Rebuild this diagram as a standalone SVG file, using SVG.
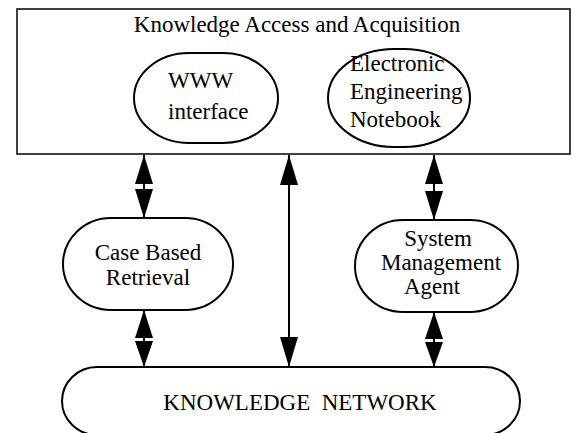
<svg xmlns="http://www.w3.org/2000/svg" width="574" height="433" viewBox="0 0 574 433">
<style>
.node{fill:#fff;stroke:#000;stroke-width:2}
.frame{fill:#fff;stroke:#111;stroke-width:1.6}
.t{font-family:"Liberation Serif","Times New Roman",serif;font-size:23px;fill:#000;white-space:pre}
.c{text-anchor:middle}
.shaft{stroke:#000;stroke-width:2;fill:none}
.head{fill:#000}
</style>
<g id="knowledge-access">
<rect class="frame" x="17" y="9" width="553" height="145"/>
<text class="t c" x="297" y="32" font-size="24">Knowledge Access and Acquisition</text>
</g>
<g id="www-interface">
<rect class="node" x="134" y="53" width="144" height="90" rx="55" ry="45"/>
<text class="t" x="168" y="88">WWW</text>
<text class="t" x="168" y="119">interface</text>
</g>
<g id="electronic-notebook">
<rect class="node" x="328" y="49" width="142" height="98" rx="66" ry="49"/>
<text class="t" x="350" y="71">Electronic</text>
<text class="t" x="350" y="99">Engineering</text>
<text class="t" x="350" y="127">Notebook</text>
</g>
<g id="case-based-retrieval">
<rect class="node" x="63" y="218" width="170" height="92" rx="48" ry="46"/>
<text class="t c" x="148" y="260">Case Based</text>
<text class="t c" x="148" y="285">Retrieval</text>
</g>
<g id="system-management-agent">
<rect class="node" x="355" y="220" width="163" height="92" rx="48" ry="46"/>
<text class="t c" x="438" y="246">System</text>
<text class="t c" x="441" y="270">Management</text>
<text class="t c" x="432" y="294">Agent</text>
</g>
<g id="knowledge-network">
<rect class="node" x="62" y="367" width="458" height="68" rx="35" ry="34"/>
<text class="t c" x="300" y="410">KNOWLEDGE  NETWORK</text>
</g>
<g id="connectors">
<line class="shaft" x1="144" y1="155" x2="144" y2="218"/>
<polygon class="head" points="144,155 135,184 153,184"/>
<polygon class="head" points="144,218 135,189 153,189"/>
<line class="shaft" x1="434" y1="155" x2="434" y2="220"/>
<polygon class="head" points="434,155 425,184 443,184"/>
<polygon class="head" points="434,220 425,191 443,191"/>
<line class="shaft" x1="289" y1="155" x2="289" y2="367"/>
<polygon class="head" points="289,155 280,185 298,185"/>
<polygon class="head" points="289,367 280,337 298,337"/>
<line class="shaft" x1="144" y1="310" x2="144" y2="367"/>
<polygon class="head" points="144,310 135,338 153,338"/>
<polygon class="head" points="144,367 135,341 153,341"/>
<line class="shaft" x1="434" y1="312" x2="434" y2="367"/>
<polygon class="head" points="434,312 425,339 443,339"/>
<polygon class="head" points="434,367 425,342 443,342"/>
</g>
</svg>
